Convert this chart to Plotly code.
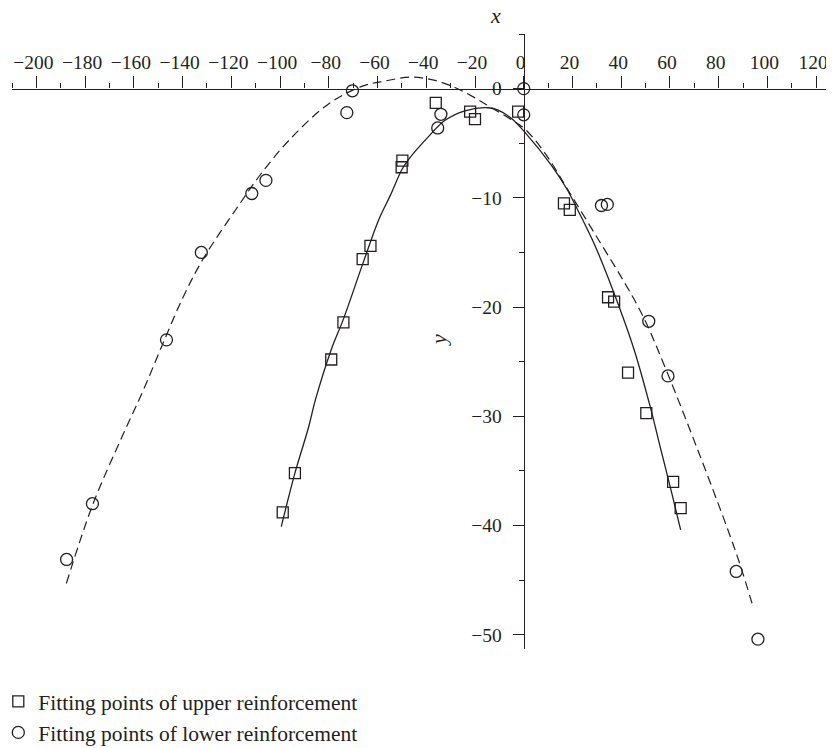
import plotly.graph_objects as go

# ---- data ----
upper_x = [-98.9, -93.9, -79.0, -74.0, -66.1, -62.9, -50.1, -49.8, -36.1, -22.0,
           -20.0, -2.3, 16.5, 18.9, 34.6, 37.1, 42.8, 50.3, 61.3, 64.4]
upper_y = [-38.8, -35.2, -24.8, -21.4, -15.6, -14.4, -7.2, -6.6, -1.3, -2.1,
           -2.8, -2.1, -10.5, -11.1, -19.1, -19.5, -26.0, -29.7, -36.0, -38.4]

lower_x = [-187.6, -177.0, -146.6, -132.3, -111.6, -105.8, -72.6, -70.3, -35.3, -34.0,
           0.0, 0.0, 31.9, 34.3, 51.3, 59.2, 87.2, 96.1]
lower_y = [-43.1, -38.0, -23.0, -15.0, -9.6, -8.4, -2.2, -0.2, -3.6, -2.35,
           0.0, -2.4, -10.7, -10.6, -21.3, -26.3, -44.2, -50.4]

# fitted curve for upper reinforcement (solid)
fit_upper_x = [-99.5, -93.9, -88.3, -85.5, -79.0, -74.0, -66.0, -59.5, -54.7, -50.0,
               -47.3, -39.1, -32.3, -24.1, -14.5, -10.5, -5.0, 0.5, 11.3, 18.0,
               20.8, 28.9, 37.1, 45.3, 52.0, 56.1, 60.5, 64.4]
fit_upper_y = [-40.1, -35.2, -31.0, -28.5, -23.9, -21.1, -16.0, -12.0, -9.75, -7.4,
               -6.5, -4.4, -2.9, -2.03, -1.75, -1.97, -2.73, -4.0, -7.0, -9.3,
               -10.5, -14.2, -18.75, -23.9, -29.2, -32.9, -36.8, -40.4]

# fitted curve for lower reinforcement (dashed)
fit_lower_x = [-187.7, -176.9, -164.9, -156.1, -148.0, -139.8, -131.6, -116.7, -108.5,
               -96.2, -80.1, -66.5, -56.9, -46.0, -36.4, -28.2, -20.0, -13.2, -5.0,
               0.5, 8.7, 18.2, 30.3, 41.2, 49.3, 58.9, 71.1, 83.3, 88.8, 94.2]
fit_lower_y = [-45.3, -38.1, -31.9, -27.6, -23.3, -19.1, -15.6, -10.6, -8.0,
               -4.7, -1.4, 0.2, 0.7, 1.05, 0.75, 0.1, -0.85, -1.75, -2.85,
               -3.7, -5.9, -9.3, -13.7, -17.7, -21.0, -26.0, -32.9, -40.1, -43.6, -47.5]

legend_names = ["Fitting points of upper reinforcement",
                "Fitting points of lower reinforcement"]

x_range = [-210, 126.5]
y_range = [-51.3, 5]

INK = "#231f20"
SERIF = "Liberation Serif, Times New Roman, serif"

fig = go.Figure()

fig.add_trace(go.Scatter(
    x=fit_upper_x, y=fit_upper_y, mode="lines", line=dict(color=INK, width=1.3),
    line_shape="spline", showlegend=False, hoverinfo="skip"))
fig.add_trace(go.Scatter(
    x=fit_lower_x, y=fit_lower_y, mode="lines",
    line=dict(color=INK, width=1.2, dash="9px,5px"),
    line_shape="spline", showlegend=False, hoverinfo="skip"))

fig.add_trace(go.Scatter(
    x=upper_x, y=upper_y, mode="markers", name=legend_names[0], legendgroup="a",
    marker=dict(symbol="square-open", size=11, color=INK, line=dict(color=INK, width=1.3))))
fig.add_trace(go.Scatter(
    x=lower_x, y=lower_y, mode="markers", name=legend_names[1], legendgroup="b",
    marker=dict(symbol="circle-open", size=12, color=INK, line=dict(color=INK, width=1.3))))

x_pos = (0 - y_range[0]) / (y_range[1] - y_range[0])   # where y = 0 in paper coords
y_pos = (0 - x_range[0]) / (x_range[1] - x_range[0])   # where x = 0 in paper coords

# the page body adds an 8px margin, so the figure is 8px smaller than the window
fig.update_layout(
    width=826, height=740,
    margin=dict(l=4, r=2, t=26, b=99, autoexpand=False),
    paper_bgcolor="white", plot_bgcolor="white",
    font=dict(family=SERIF, color=INK, size=20),
    xaxis=dict(
        range=x_range, side="top", anchor="free", position=x_pos,
        showline=True, linecolor=INK, linewidth=1.3,
        ticks="outside", ticklen=12, tickwidth=1.1, tickcolor=INK,
        tick0=0, dtick=20, ticklabeloverflow="allow", ticklabelshift=-3,
        minor=dict(ticks="outside", ticklen=5, tickwidth=1.1, tickcolor=INK, tick0=0, dtick=10),
        showgrid=False, zeroline=False, automargin=False,
        tickfont=dict(family=SERIF, size=19.5, color=INK),
    ),
    yaxis=dict(
        range=y_range, side="left", anchor="free", position=y_pos,
        showline=True, linecolor=INK, linewidth=1.3,
        ticks="outside", ticklen=11, tickwidth=1.1, tickcolor=INK,
        tick0=0, dtick=10, ticklabelstandoff=7,
        minor=dict(ticks="outside", ticklen=5, tickwidth=1.1, tickcolor=INK, tick0=0, dtick=5),
        showgrid=False, zeroline=False, automargin=False,
        tickfont=dict(family=SERIF, size=19.5, color=INK),
    ),
    legend=dict(
        x=-0.0167, y=-0.052, xanchor="left", yanchor="top",
        font=dict(family=SERIF, size=21.5, color=INK),
        traceorder="grouped", tracegroupgap=0,
        bgcolor="rgba(0,0,0,0)",
    ),
    annotations=[
        dict(text="<i>x</i>", x=0.5902, y=1.053, xref="paper", yref="paper",
             showarrow=False, font=dict(family=SERIF, size=22, color=INK)),
        dict(text="<i>y</i>", x=0.5195, y=0.5024, xref="paper", yref="paper",
             showarrow=False, textangle=-90, font=dict(family=SERIF, size=22, color=INK)),
    ],
)

fig.write_html("out.html")
